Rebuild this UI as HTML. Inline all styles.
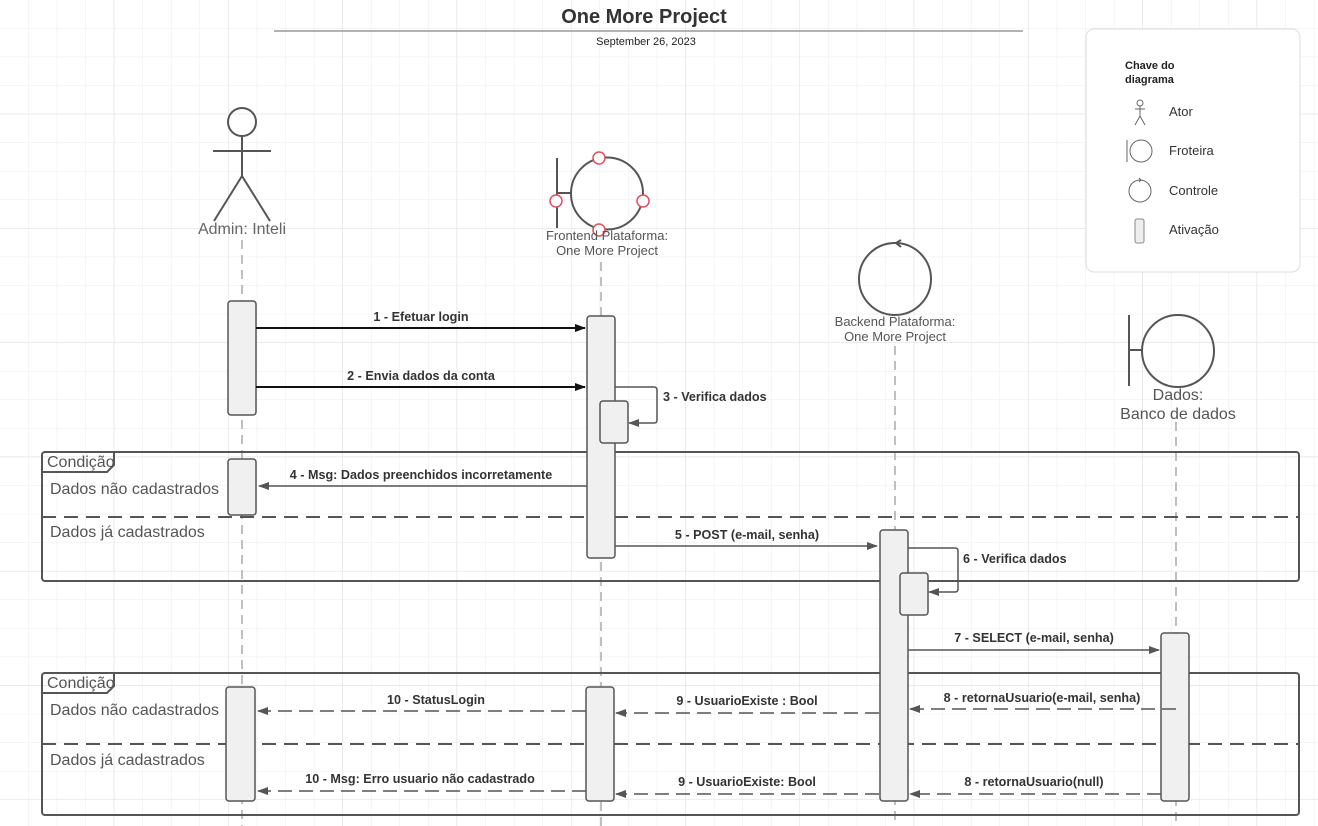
<!DOCTYPE html>
<html><head><meta charset="utf-8"><style>
html,body{margin:0;padding:0;background:#fff;}
svg{display:block;font-family:"Liberation Sans",sans-serif;}
</style></head><body>
<svg width="1318" height="826" viewBox="0 0 1318 826" xmlns="http://www.w3.org/2000/svg">
<defs>
<pattern id="g" width="28.571" height="28.571" patternUnits="userSpaceOnUse">
<path d="M28.571 0V28.571M0 28.571H28.571" fill="none" stroke="#ececec" stroke-width="1"/>
</pattern>
<pattern id="G" width="114.285" height="114.285" patternUnits="userSpaceOnUse">
<path d="M114.285 0V114.285M0 114.285H114.285" fill="none" stroke="#dedede" stroke-width="1"/>
</pattern>
<marker id="a" markerWidth="11" markerHeight="8" refX="10" refY="4" orient="auto" markerUnits="userSpaceOnUse"><path d="M0,0L11,4L0,8z" fill="#111"/></marker>
<marker id="b" markerWidth="11" markerHeight="8" refX="10" refY="4" orient="auto" markerUnits="userSpaceOnUse"><path d="M0,0L11,4L0,8z" fill="#555"/></marker>
</defs>
<rect width="1318" height="826" fill="url(#g)"/>
<rect width="1318" height="826" fill="url(#G)"/>

<text x="644" y="23" text-anchor="middle" font-size="20" font-weight="bold" fill="#333">One More Project</text>
<line x1="274" y1="31" x2="1023" y2="31" stroke="#999" stroke-width="1.5"/>
<text x="646" y="45" text-anchor="middle" font-size="11" fill="#222">September 26, 2023</text>

<!-- legend -->
<rect x="1086" y="29" width="214" height="243" rx="8" fill="#fff" stroke="#ddd"/>
<text x="1125" y="69" font-size="11" font-weight="bold" fill="#222">Chave do</text>
<text x="1125" y="83" font-size="11" font-weight="bold" fill="#222">diagrama</text>
<g stroke="#666" fill="none" stroke-width="1">
<circle cx="1140" cy="103" r="3"/><path d="M1140 106V116M1135 109H1145M1140 116L1135 125M1140 116L1145 125"/>
<line x1="1127" y1="140" x2="1127" y2="162"/><circle cx="1141" cy="151" r="11"/>
<circle cx="1140" cy="191" r="11"/><path d="M1139 178L1141 180L1139 182"/>
</g>
<rect x="1135" y="219" width="9" height="24" rx="2" fill="#eee" stroke="#888"/>
<g font-size="13" fill="#333"><text x="1169" y="116">Ator</text><text x="1169" y="155">Froteira</text><text x="1169" y="195">Controle</text><text x="1169" y="234">Ativação</text></g>

<!-- lifelines -->
<g stroke="#aaa" stroke-width="1.5" stroke-dasharray="9,6">
<line x1="242" y1="240" x2="242" y2="826"/>
<line x1="601" y1="262" x2="601" y2="826"/>
<line x1="895" y1="346" x2="895" y2="826"/>
<line x1="1176" y1="422" x2="1176" y2="826"/>
</g>

<!-- actor -->
<g stroke="#555" stroke-width="2" fill="none">
<circle cx="242" cy="122" r="14"/><path d="M242 136V176M213 151H271M242 176L214 221M242 176L270 221"/>
</g>
<text x="242" y="234" text-anchor="middle" font-size="16" fill="#666">Admin: Inteli</text>

<!-- frontend boundary -->
<g stroke="#555" stroke-width="2" fill="none">
<circle cx="607" cy="193.5" r="36"/><path d="M557 158V228M557 193H571"/>
</g>
<g fill="#fff" stroke="#e0505a" stroke-width="1.5">
<circle cx="599" cy="158" r="6"/><circle cx="556" cy="201" r="6"/><circle cx="643" cy="201" r="6"/><circle cx="599" cy="230" r="6"/>
</g>
<text x="607" y="240" text-anchor="middle" font-size="13" fill="#555">Frontend Plataforma:</text>
<text x="607" y="255" text-anchor="middle" font-size="13" fill="#555">One More Project</text>

<!-- backend control -->
<g stroke="#555" stroke-width="2" fill="none"><circle cx="895" cy="279" r="36"/><path d="M901 240L896 243L901 247"/></g>
<text x="895" y="326" text-anchor="middle" font-size="13" fill="#555">Backend Plataforma:</text>
<text x="895" y="341" text-anchor="middle" font-size="13" fill="#555">One More Project</text>

<!-- dados boundary -->
<g stroke="#555" stroke-width="2" fill="none"><circle cx="1178" cy="351" r="36"/><path d="M1129 315V386M1129 350H1142"/></g>
<text x="1178" y="400" text-anchor="middle" font-size="16" fill="#555">Dados:</text>
<text x="1178" y="419" text-anchor="middle" font-size="16" fill="#555">Banco de dados</text>

<!-- frames -->
<g stroke="#555" stroke-width="2" fill="none">
<rect x="42" y="452" width="1257" height="129" rx="3"/>
<path d="M42 472H107L114 465V452"/>
<line x1="42" y1="517" x2="1299" y2="517" stroke-dasharray="14,8"/>
<rect x="42" y="673" width="1257" height="142" rx="3"/>
<path d="M42 693H107L114 686V673"/>
<line x1="42" y1="744" x2="1299" y2="744" stroke-dasharray="14,8"/>
</g>
<g font-size="16" fill="#555">
<text x="47" y="467">Condição</text><text x="50" y="494">Dados não cadastrados</text><text x="50" y="537">Dados já cadastrados</text>
<text x="47" y="688">Condição</text><text x="50" y="715">Dados não cadastrados</text><text x="50" y="765">Dados já cadastrados</text>
</g>

<!-- activations -->
<g fill="#f0f0f0" stroke="#555" stroke-width="1.5">
<rect x="228" y="301" width="28" height="114" rx="3"/>
<rect x="228" y="459" width="28" height="56" rx="3"/>
<rect x="226" y="687" width="29" height="114" rx="3"/>
<rect x="587" y="316" width="28" height="242" rx="3"/>
<rect x="600" y="401" width="28" height="42" rx="3"/>
<rect x="586" y="687" width="28" height="114" rx="3"/>
<rect x="880" y="530" width="28" height="271" rx="3"/>
<rect x="900" y="573" width="28" height="42" rx="3"/>
<rect x="1161" y="633" width="28" height="168" rx="3"/>
</g>

<!-- solid messages -->
<g stroke="#111" stroke-width="2" fill="none" marker-end="url(#a)">
<line x1="256" y1="328" x2="585" y2="328"/>
<line x1="256" y1="387" x2="585" y2="387"/>
</g>
<g stroke="#555" stroke-width="1.5" fill="none" marker-end="url(#b)">
<path d="M615 387H654Q657 387 657 390V420Q657 423 654 423H629"/>
<line x1="587" y1="486" x2="259" y2="486"/>
<line x1="615" y1="546" x2="877" y2="546"/>
<path d="M908 548H955Q958 548 958 551V589Q958 592 955 592H929"/>
<line x1="908" y1="650" x2="1159" y2="650"/>
</g>
<g stroke="#555" stroke-width="1.5" fill="none" stroke-dasharray="14,7" marker-end="url(#b)">
<line x1="1176" y1="709" x2="910" y2="709"/>
<line x1="879" y1="713" x2="616" y2="713"/>
<line x1="586" y1="711" x2="258" y2="711"/>
<line x1="1161" y1="794" x2="910" y2="794"/>
<line x1="879" y1="794" x2="616" y2="794"/>
<line x1="586" y1="791" x2="258" y2="791"/>
</g>
<g font-size="12.6" font-weight="bold" fill="#333" text-anchor="middle">
<text x="421" y="321">1 - Efetuar login</text>
<text x="421" y="380">2 - Envia dados da conta</text>
<text x="421" y="479">4 - Msg: Dados preenchidos incorretamente</text>
<text x="747" y="539">5 - POST (e-mail, senha)</text>
<text x="1034" y="642">7 - SELECT (e-mail, senha)</text>
<text x="1042" y="702">8 - retornaUsuario(e-mail, senha)</text>
<text x="747" y="705">9 - UsuarioExiste : Bool</text>
<text x="436" y="704">10 - StatusLogin</text>
<text x="1034" y="786">8 - retornaUsuario(null)</text>
<text x="747" y="786">9 - UsuarioExiste: Bool</text>
<text x="420" y="783">10 - Msg: Erro usuario não cadastrado</text>
</g>
<g font-size="12.6" font-weight="bold" fill="#333">
<text x="663" y="401">3 - Verifica dados</text>
<text x="963" y="563">6 - Verifica dados</text>
</g>
</svg>
</body></html>
